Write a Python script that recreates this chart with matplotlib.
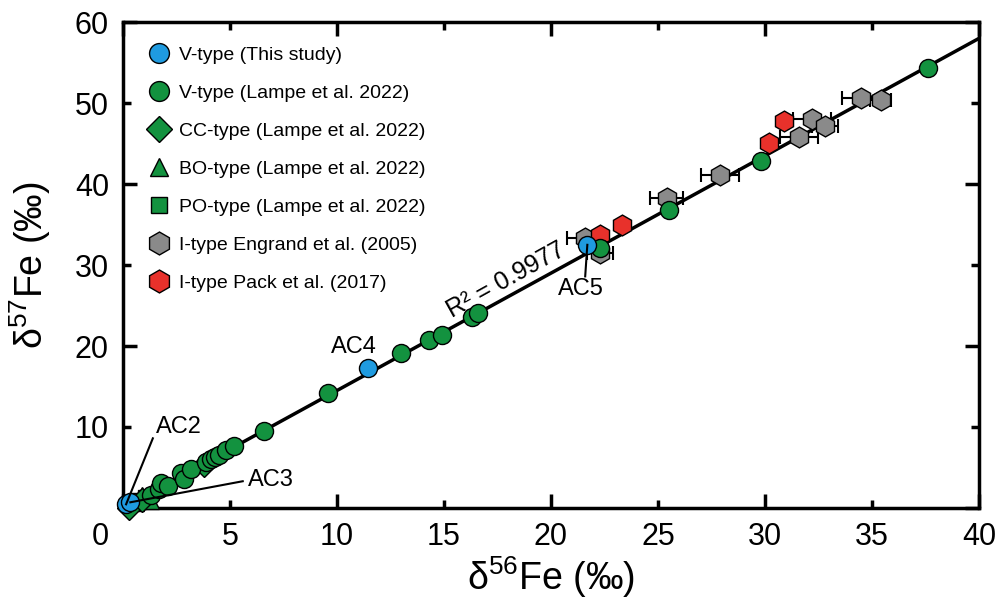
import numpy as np
import matplotlib
matplotlib.use("Agg")
import matplotlib.pyplot as plt

plt.rcParams['font.family'] = ['Liberation Sans', 'DejaVu Sans']
plt.rcParams['mathtext.fontset'] = 'custom'
plt.rcParams['mathtext.rm'] = 'Liberation Sans'
plt.rcParams['mathtext.it'] = 'Liberation Sans'

# V-type, this study (AC2..AC5)
THIS_X = [0.15, 0.35, 11.45, 21.7]
THIS_Y = [0.45, 0.7, 17.3, 32.5]
THIS_LAB = ['AC2', 'AC3', 'AC4', 'AC5']

# Lampe et al. 2022
V_X = [1.3, 1.7, 1.8, 2.1, 2.7, 2.85, 3.2, 3.9, 4.1, 4.3, 4.5, 4.8, 5.2, 6.6,
       9.6, 13.0, 14.3, 14.9, 16.3, 16.6, 22.3, 25.5, 29.8, 37.6]
V_Y = [1.6, 2.3, 3.1, 2.7, 4.3, 3.6, 4.8, 5.7, 6.1, 6.3, 6.6, 7.2, 7.7, 9.5,
       14.2, 19.1, 20.7, 21.4, 23.6, 24.1, 32.1, 36.8, 42.8, 54.4]
CC_X = [0.3, 0.9, 3.8]
CC_Y = [0.0, 1.0, 5.3]
BO_X = [0.6, 0.9, 1.3]
BO_Y = [0.6, 1.6, 0.9]
PO_X = [0.7, 1.1]
PO_Y = [0.8, 1.2]

# I-type, Engrand et al. (2005)
ENG_X = [21.6, 22.3, 25.4, 27.9, 31.6, 32.2, 32.8, 34.5, 35.4]
ENG_Y = [33.3, 31.5, 38.3, 41.1, 45.8, 48.1, 47.2, 50.6, 50.4]
ENG_XERR = [0.85, 0.6, 0.75, 0.9, 0.9, 0.9, 0.6, 0.9, 0.5]

# I-type, Pack et al. (2017)
PACK_X = [22.3, 23.3, 30.2, 30.9]
PACK_Y = [33.7, 34.9, 45.1, 47.8]

# regression line (R² = 0.9977)
FIT_SLOPE = 1.45
FIT_ICPT = 0.0

BLUE = '#1f9be0'
GREEN = '#13923f'
GRAY = '#8a8a8a'
RED = '#e8312b'

fig = plt.figure(figsize=(9.99, 5.99), dpi=100)
ax = fig.add_axes([0.123, 0.152, 0.857, 0.811])

xx = np.array([0, 40])
ax.plot(xx, FIT_SLOPE * xx + FIT_ICPT, color='black', lw=2.5, zorder=1)

ax.errorbar(ENG_X, ENG_Y, xerr=ENG_XERR, fmt='none', ecolor='black',
            elinewidth=1.5, capsize=5, capthick=1.5, zorder=2)
ax.plot(ENG_X, ENG_Y, 'h', ms=15, mfc=GRAY, mec='black', mew=1, ls='none',
        zorder=3, label='I-type Engrand et al. (2005)')
ax.plot(PACK_X, PACK_Y, 'h', ms=15, mfc=RED, mec='black', mew=1, ls='none',
        zorder=3, label='I-type Pack et al. (2017)')
ax.plot(PO_X, PO_Y, 's', ms=11, mfc=GREEN, mec='black', mew=1, ls='none',
        zorder=4, label='PO-type (Lampe et al. 2022)', clip_on=False)
ax.plot(BO_X, BO_Y, '^', ms=12, mfc=GREEN, mec='black', mew=1, ls='none',
        zorder=4, label='BO-type (Lampe et al. 2022)', clip_on=False)
ax.plot(CC_X, CC_Y, 'D', ms=12, mfc=GREEN, mec='black', mew=1, ls='none',
        zorder=4, label='CC-type (Lampe et al. 2022)', clip_on=False)
ax.plot(V_X, V_Y, 'o', ms=13, mfc=GREEN, mec='black', mew=1, ls='none',
        zorder=5, label='V-type (Lampe et al. 2022)', clip_on=False)
ax.plot(THIS_X, THIS_Y, 'o', ms=13, mfc=BLUE, mec='black', mew=1, ls='none',
        zorder=6, label='V-type (This study)', clip_on=False)

# sample labels
lab_pos = {'AC2': (2.6, 10.0), 'AC3': (6.9, 3.4), 'AC4': (10.8, 19.9),
           'AC5': (21.4, 27.1)}
for x, y, lab in zip(THIS_X, THIS_Y, THIS_LAB):
    tx, ty = lab_pos[lab]
    ax.text(tx, ty, lab, fontsize=17, ha='center', va='center')
    if lab == 'AC2':
        ax.plot([x, 1.4], [y, 8.6], color='black', lw=1.5, zorder=7)
    elif lab == 'AC3':
        ax.plot([x, 5.6], [y, 3.3], color='black', lw=1.5, zorder=7)
    elif lab == 'AC5':
        ax.plot([x, 21.6], [y, 28.6], color='black', lw=1.5, zorder=7)

ax.text(17.9, 28.1, 'R² = 0.9977', fontsize=18, rotation=29,
        ha='center', va='center', rotation_mode='anchor')

ax.set_xlim(0, 40)
ax.set_ylim(0, 60)
ax.set_xticks([0, 10, 20, 30, 40], labels=['', '10', '20', '30', '40'])
ax.set_xticks([5, 15, 25, 35], minor=True, labels=['5', '15', '25', '35'])
ax.set_yticks([0, 20, 40, 60], labels=['', '20', '40', '60'])
ax.set_yticks([10, 30, 50], minor=True, labels=['10', '30', '50'])
ax.tick_params(which='both', direction='in', top=True, right=True,
               labelsize=22, width=2.5)
ax.tick_params(which='major', length=10, pad=10)
ax.tick_params(which='minor', length=6, pad=10)
ax.annotate('0', xy=(0, 0), xycoords='data', xytext=(-10, -10),
            textcoords='offset points', ha='right', va='top', fontsize=22)
for s in ax.spines.values():
    s.set_linewidth(2.5)

ax.set_xlabel(r'δ$^{56}$Fe (‰)', fontsize=27, labelpad=2)
ax.set_ylabel(r'δ$^{57}$Fe (‰)', fontsize=27, labelpad=16)

h, l = ax.get_legend_handles_labels()
order = ['V-type (This study)', 'V-type (Lampe et al. 2022)',
         'CC-type (Lampe et al. 2022)', 'BO-type (Lampe et al. 2022)',
         'PO-type (Lampe et al. 2022)', 'I-type Engrand et al. (2005)',
         'I-type Pack et al. (2017)']
hd = dict(zip(l, h))
ax.legend([hd[k] for k in order], order, loc='upper left', frameon=False,
          fontsize=14, labelspacing=1.05, handletextpad=0.45,
          borderaxespad=0.85, handlelength=1.2, markerscale=1.1)

fig.savefig('out.png', dpi=100)
